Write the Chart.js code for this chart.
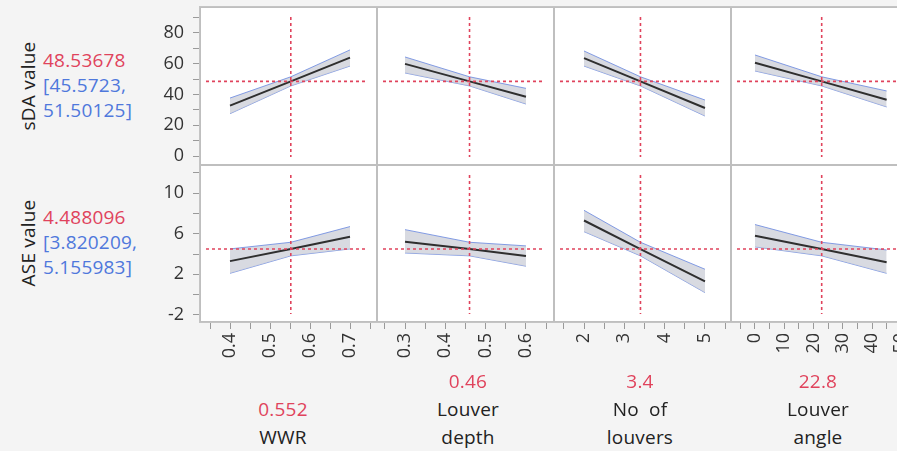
<!DOCTYPE html>
<html>
<head>
<meta charset="utf-8">
<script src="https://cdn.jsdelivr.net/npm/chart.js@4/dist/chart.umd.min.js"></script>
<style>
  html, body { margin: 0; padding: 0; }
  body { width: 897px; height: 451px; overflow: hidden; position: relative; background: #f4f4f4; font-family: "Open Sans", sans-serif; }
  .panel { position: absolute; box-sizing: border-box; background: #fff; border: 1px solid #bfbfbf; }
  .frame { position: absolute; box-sizing: border-box; border: 1px solid #c4c4c4; }
  canvas { position: absolute; }
  .txt { position: absolute; white-space: nowrap; font-size: 19px; letter-spacing: 0.2px; line-height: 24px; color: #222; }
  .red { color: #e0435c; }
  .blue { color: #4f78dc; }
  .rot { transform: translate(-50%, -50%) rotate(-90deg); }
  .ctr { transform: translateX(-50%); text-align: center; }
</style>
</head>
<body>
<script>
// factors (columns) and responses (rows)
const factors = ['WWR', 'Louver depth', 'No of louvers', 'Louver angle'];
const responses = ['sDA value', 'ASE value'];

// factor settings: low end, current value, high end
const xLow = [0.4, 0.3, 2, 0];
const xCur = [0.552, 0.46, 3.4, 22.8];
const xHigh = [0.7, 0.6, 5, 45];

// current prediction and its interval
const yCur = [48.53678, 4.488096];
const yCurLo = [45.5723, 3.820209];
const yCurHi = [51.50125, 5.155983];

// predictions at low / high end of each factor
const sdaPred = [[32.8, 64.0], [59.9, 38.5], [63.7, 31.2], [60.7, 36.6]];
const sdaLo = [[27.5, 58.5], [54.0, 33.8], [58.5, 26.0], [55.3, 31.9]];
const sdaHi = [[37.7, 69.0], [64.4, 44.0], [68.3, 36.4], [65.7, 42.3]];

const asePred = [[3.3, 5.7], [5.2, 3.8], [7.3, 1.3], [5.8, 3.2]];
const aseLo = [[2.1, 4.5], [4.1, 2.8], [6.2, 0.2], [4.7, 2.1]];
const aseHi = [[4.5, 6.7], [6.4, 4.8], [8.3, 2.5], [6.9, 4.4]];

// axis ranges
const xMin = [0.325, 0.2305, 1.256, -8.2];
const xMax = [0.7675, 0.6695, 5.645, 52.3];
const xStep = [0.05, 0.05, 0.5, 5];
const xLabelStep = [0.1, 0.1, 1, 10];
const yMin = [-5.85, -2.69];
const yMax = [96.9, 12.76];
const yStep = [10, 2];

const RED = '#e0435c';
const cols = [200, 377, 554, 731], colW = 177;
const rows = [7, 165], rowH = [158, 157];
const AXW = 60, AXH = 60;

const refLines = {
  id: 'refLines',
  afterDatasetsDraw(chart, args, opts) {
    const { ctx, chartArea: a, scales: { x, y } } = chart;
    const px = x.getPixelForValue(opts.x), py = y.getPixelForValue(opts.y);
    ctx.save();
    ctx.strokeStyle = RED;
    ctx.lineWidth = 1.6;
    ctx.setLineDash([3, 3]);
    ctx.beginPath();
    ctx.moveTo(a.left + 6, py); ctx.lineTo(a.right - 9, py);
    ctx.moveTo(px, a.top + 10); ctx.lineTo(px, a.bottom - 8);
    ctx.stroke();
    ctx.restore();
  }
};

function isMajor(v, step, offset) {
  const q = (v - offset) / step;
  return Math.abs(q - Math.round(q)) < 1e-6;
}

function addDiv(cls, text, left, top) {
  const d = document.createElement('div');
  d.className = 'txt ' + cls;
  d.textContent = text;
  d.style.left = left + 'px';
  d.style.top = top + 'px';
  document.body.appendChild(d);
  return d;
}

function makePanel(r, c) {
  const p = document.createElement('div');
  p.className = 'panel';
  p.style.left = cols[c] + 'px';
  p.style.top = rows[r] + 'px';
  p.style.width = colW + 'px';
  p.style.height = rowH[r] + 'px';
  document.body.appendChild(p);

  const showX = r === 1, showY = c === 0;
  const cv = document.createElement('canvas');
  const w = colW + (showY ? AXW : 0), h = rowH[r] + (showX ? AXH : 0);
  cv.width = w; cv.height = h;
  cv.style.left = (cols[c] - (showY ? AXW : 0)) + 'px';
  cv.style.top = rows[r] + 'px';
  cv.style.width = w + 'px'; cv.style.height = h + 'px';
  document.body.appendChild(cv);

  const pred = r === 0 ? sdaPred[c] : asePred[c];
  const lo = r === 0 ? sdaLo[c] : aseLo[c];
  const hi = r === 0 ? sdaHi[c] : aseHi[c];
  const xs = [xLow[c], xCur[c], xHigh[c]];
  const pts = (arr, mid) => [{ x: xs[0], y: arr[0] }, { x: xs[1], y: mid }, { x: xs[2], y: arr[1] }];

  const tickFont = { family: '"Open Sans", sans-serif', size: 18 };

  new Chart(cv, {
    type: 'line',
    data: {
      datasets: [
        { data: pts(hi, yCurHi[r]), borderColor: 'rgba(110,140,225,0.85)', borderWidth: 1, pointRadius: 0,
          backgroundColor: 'rgba(200,203,212,0.7)', fill: '+1', order: 2 },
        { data: pts(lo, yCurLo[r]), borderColor: 'rgba(110,140,225,0.85)', borderWidth: 1, pointRadius: 0,
          fill: false, order: 2 },
        { data: pts(pred, yCur[r]), borderColor: '#2f2f2f', borderWidth: 2, pointRadius: 0, fill: false, order: 1 }
      ]
    },
    options: {
      responsive: false,
      animation: false,
      events: [],
      layout: { padding: 0 },
      plugins: {
        legend: { display: false },
        tooltip: { enabled: false },
        refLines: { x: xCur[c], y: yCur[r] }
      },
      scales: {
        x: {
          type: 'linear', min: xMin[c], max: xMax[c], display: showX,
          border: { display: false },
          grid: { drawOnChartArea: false, drawTicks: true, tickLength: 7, color: '#9a9a9a' },
          ticks: {
            stepSize: xStep[c], includeBounds: false, autoSkip: false,
            minRotation: 90, maxRotation: 90, padding: 4, color: '#333', font: tickFont,
            callback: v => isMajor(v, xLabelStep[c], 0) ? String(+v.toFixed(2)) : ''
          },
          afterFit: a => { if (showX) { a.height = AXH; a.paddingLeft = 0; a.paddingRight = 0; } }
        },
        y: {
          type: 'linear', min: yMin[r], max: yMax[r], display: showY,
          border: { display: false },
          grid: { drawOnChartArea: false, drawTicks: true, tickLength: 7, color: '#9a9a9a' },
          ticks: {
            stepSize: yStep[r], includeBounds: false, autoSkip: false, padding: 9, color: '#333', font: tickFont,
            callback: v => (r === 0 ? isMajor(v, 20, 0) : isMajor(v, 4, 2)) ? String(v) : ''
          },
          afterFit: a => { if (showY) { a.width = AXW; a.paddingTop = 0; a.paddingBottom = 0; } }
        }
      }
    },
    plugins: [refLines]
  });
}

for (let r = 0; r < 2; r++) for (let c = 0; c < 4; c++) makePanel(r, c);

// outer frame round the grid of panels
const frame = document.createElement('div');
frame.className = 'frame';
frame.style.left = (cols[0] - 1) + 'px';
frame.style.top = (rows[0] - 1) + 'px';
frame.style.width = (cols[3] + colW - cols[0] + 2) + 'px';
frame.style.height = (rows[1] + rowH[1] - rows[0] + 2) + 'px';
document.body.appendChild(frame);

// response labels on the left
const rowCenters = [86, 243];
responses.forEach((name, r) => {
  addDiv('rot', name, 28, rowCenters[r]);
  addDiv('red', String(yCur[r]), 43, rowCenters[r] - 38);
  addDiv('blue', '[' + yCurLo[r] + ',', 43, rowCenters[r] - 13);
  addDiv('blue', yCurHi[r] + ']', 43, rowCenters[r] + 12);
});

// factor labels under the panels
const labelX = [283, 468, 640, 818];
factors.forEach((name, c) => {
  const words = name === 'WWR' ? ['WWR'] : name === 'Louver depth' ? ['Louver', 'depth']
    : name === 'No of louvers' ? ['No  of', 'louvers'] : ['Louver', 'angle'];
  const base = 425;
  words.slice().reverse().forEach((wd, i) => addDiv('ctr', wd, labelX[c], base - i * 28).style.whiteSpace = 'pre');
  addDiv('red ctr', String(xCur[c]), labelX[c], base - words.length * 28);
});
</script>
</body>
</html>
